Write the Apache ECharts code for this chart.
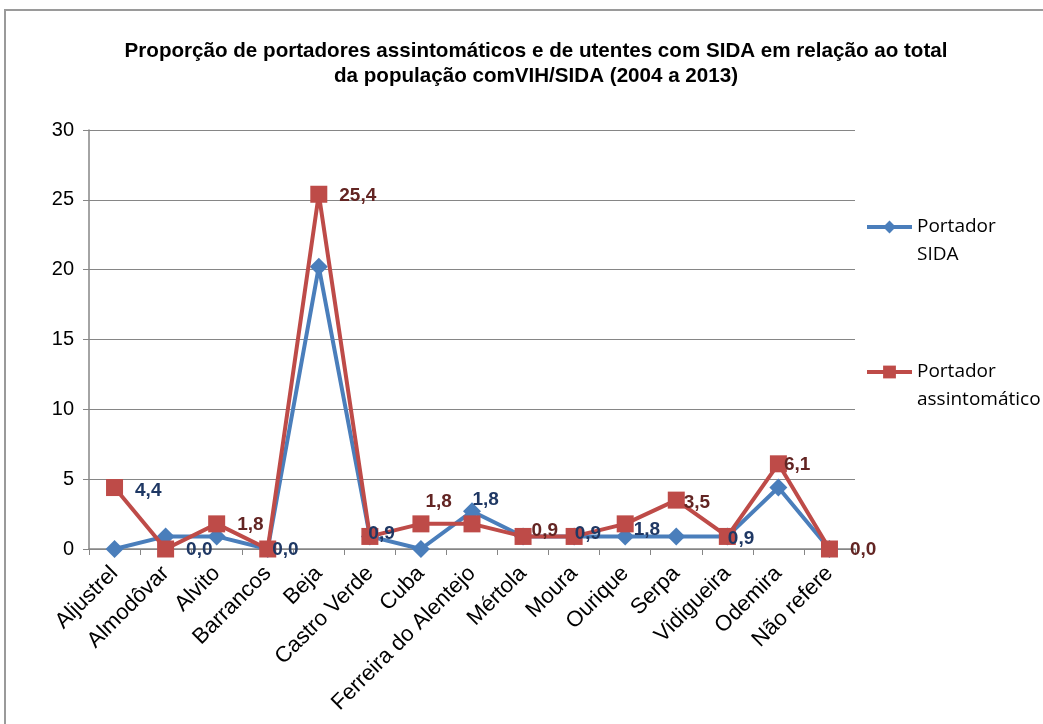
<!DOCTYPE html>
<html>
<head>
<meta charset="utf-8">
<script src="https://cdn.jsdelivr.net/npm/echarts@6/dist/echarts.min.js"></script>
<style>
html,body{margin:0;padding:0;background:#fff;}
#chart{width:1043px;height:724px;}
</style>
</head>
<body>
<div id="chart"></div>
<script>
// ---- data ----
const categories = ['Aljustrel','Almodôvar','Alvito','Barrancos','Beja','Castro Verde','Cuba','Ferreira do Alentejo','Mértola','Moura','Ourique','Serpa','Vidigueira','Odemira','Não refere'];
const sida = [0, 0.9, 0.9, 0, 20.2, 0.9, 0, 2.7, 0.9, 0.9, 0.9, 0.9, 0.9, 4.4, 0];
const assint = [4.4, 0, 1.8, 0, 25.4, 0.9, 1.8, 1.8, 0.9, 0.9, 1.8, 3.5, 0.9, 6.1, 0];
// data labels as shown in the chart (text and which colour group)
const labelTexts = ['4,4','0,0','1,8','0,0','25,4','0,9','1,8','1,8','0,9','0,9','1,8','3,5','0,9','6,1','0,0'];
const labelGroup = ['sida','sida','assint','sida','assint','sida','assint','sida','assint','sida','sida','assint','sida','assint','assint'];
const yTicks = {min: 0, max: 30, interval: 5};
const seriesNames = ['Portador\nSIDA', 'Portador\nassintomático'];
const titleText = 'Proporção de portadores assintomáticos e de utentes com SIDA em relação ao total\nda população comVIH/SIDA (2004 a 2013)';

// ---- styles ----
const labelColors = {sida: '#1F3864', assint: '#632523'};
const labelShift = [[12,3],[12,1],[12,1],[-4,1],[12,2],[-10,-3],[-4,-22],[-8,-24],[0,-6],[-8,-3],[0,6],[-1,3],[-8,2],[-3,1],[12,1]];
const FONT = '"Liberation Sans", Arial, sans-serif';

const assintData = assint.map((v, i) => ({
  value: v,
  label: {
    show: true,
    position: 'right',
    distance: 0,
    offset: labelShift[i],
    formatter: labelTexts[i],
    color: labelColors[labelGroup[i]],
    fontFamily: FONT,
    fontWeight: 'bold',
    fontSize: 19
  }
}));

const chart = echarts.init(document.getElementById('chart'));
const legendText = {fontFamily: '"Open Sans", sans-serif', fontSize: 19, color: '#000', lineHeight: 28};
const legendCommon = {
  orient: 'vertical', left: 860, itemWidth: 45, itemHeight: 16,
  lineStyle: {width: 4}, textStyle: legendText,
  formatter: n => ' \n' + n
};
chart.setOption({
  animation: false,
  backgroundColor: '#fff',
  graphic: [{
    type: 'rect', shape: {x: 5, y: 10, width: 1100, height: 800},
    style: {fill: 'none', stroke: '#9a9a9a', lineWidth: 2}, silent: true
  }],
  title: {
    text: titleText,
    left: 531, top: 34, textAlign: 'center',
    textStyle: {fontFamily: FONT, fontWeight: 'bold', fontSize: 20.6, color: '#000', lineHeight: 25}
  },
  legend: [
    Object.assign({data: [seriesNames[0]], top: 180}, legendCommon),
    Object.assign({data: [seriesNames[1]], top: 325}, legendCommon)
  ],
  grid: {left: 89, right: 188, top: 130, bottom: 175, containLabel: false},
  xAxis: {
    type: 'category',
    data: categories,
    boundaryGap: true,
    axisLine: {lineStyle: {color: '#868686', width: 1.5}},
    axisTick: {show: true, length: 6, lineStyle: {color: '#868686'}},
    axisLabel: {rotate: 45, interval: 0, margin: 21, color: '#000', fontFamily: FONT, fontSize: 22}
  },
  yAxis: {
    type: 'value',
    min: yTicks.min, max: yTicks.max, interval: yTicks.interval,
    axisLine: {show: true, lineStyle: {color: '#868686', width: 1.5}},
    axisTick: {show: true, length: 6, lineStyle: {color: '#868686'}},
    splitLine: {lineStyle: {color: '#868686', width: 1}},
    axisLabel: {color: '#000', fontFamily: FONT, fontSize: 20, margin: 15}
  },
  series: [
    {
      name: seriesNames[0], type: 'line', data: sida,
      symbol: 'diamond', symbolSize: 18,
      lineStyle: {color: '#4A7EBB', width: 4},
      itemStyle: {color: '#4A7EBB'},
      z: 2
    },
    {
      name: seriesNames[1], type: 'line', data: assintData,
      symbol: 'rect', symbolSize: 17,
      lineStyle: {color: '#BE4B48', width: 4},
      itemStyle: {color: '#BE4B48'},
      z: 3
    }
  ]
});
</script>
</body>
</html>
